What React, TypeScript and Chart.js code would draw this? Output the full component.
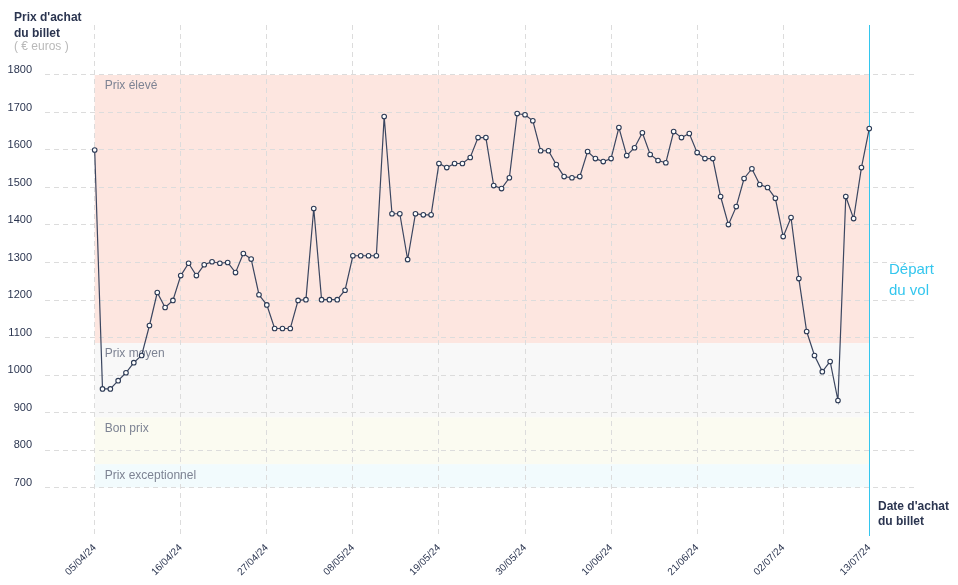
import React, { useEffect, useRef } from 'react';
import { Chart, registerables } from 'chart.js';

Chart.register(...registerables);

const tickLabels = ['05/04/24', '16/04/24', '27/04/24', '08/05/24', '19/05/24', '30/05/24', '10/06/24', '21/06/24', '02/07/24', '13/07/24'];
const tickStep = 11;

const prices = [
  1600, 963, 963, 985, 1006, 1033, 1052, 1132, 1220, 1180,
  1199, 1265, 1298, 1265, 1294, 1302, 1298, 1300, 1273, 1324,
  1309, 1214, 1187, 1124, 1124, 1124, 1199, 1201, 1444, 1201,
  1201, 1201, 1226, 1318, 1318, 1318, 1318, 1689, 1430, 1430,
  1308, 1430, 1427, 1427, 1564, 1553, 1564, 1564, 1580, 1633,
  1633, 1505, 1497, 1526, 1697, 1694, 1678, 1598, 1598, 1561,
  1529, 1526, 1529, 1596, 1577, 1569, 1577, 1660, 1585, 1606,
  1646, 1588, 1572, 1566, 1649, 1633, 1644, 1593, 1577, 1577,
  1476, 1401, 1449, 1524, 1550, 1508, 1500, 1471, 1369, 1420,
  1257, 1116, 1052, 1009, 1036, 932, 1476, 1417, 1553, 1657,
];

const yTicks = [700, 800, 900, 1000, 1100, 1200, 1300, 1400, 1500, 1600, 1700, 1800];

const bandNames = ['Prix élevé', 'Prix moyen', 'Bon prix', 'Prix exceptionnel'];
const bandFrom = [1085, 887, 762, 700];
const bandTo = [1800, 1085, 887, 762];
const bandColors = ['#fde6e0', '#f8f8f8', '#fbfbf1', '#f2fbfd'];

const yTitle = ["Prix d'achat", 'du billet'];
const yUnit = '( € euros )';
const xTitle = ["Date d'achat", 'du billet'];
const departLabel = ['Départ', 'du vol'];

const FONT = '"Liberation Sans", Arial, sans-serif';
const NAVY = '#2b3550';
const CYAN = '#33c6ee';

export default function App() {
  const ref = useRef<HTMLCanvasElement | null>(null);

  useEffect(() => {
    if (!ref.current) return;
    const lastIndex = prices.length - 1;

    const overlay = {
      id: 'overlay',
      beforeDraw(chart: any) {
        const { ctx, scales } = chart;
        const x = scales.x;
        const y = scales.y;
        const x0 = x.getPixelForValue(0);
        const x1 = x.getPixelForValue(lastIndex);
        ctx.save();
        bandNames.forEach((name, i) => {
          const top = y.getPixelForValue(bandTo[i]);
          const bot = y.getPixelForValue(bandFrom[i]);
          ctx.fillStyle = bandColors[i];
          ctx.fillRect(x0, top, x1 - x0, bot - top);
        });
        ctx.restore();
      },
      beforeDatasetsDraw(chart: any) {
        const { ctx, scales } = chart;
        const x = scales.x;
        const y = scales.y;
        const x0 = x.getPixelForValue(0);
        ctx.save();
        ctx.font = `12px ${FONT}`;
        ctx.fillStyle = '#7d8393';
        ctx.textBaseline = 'middle';
        ctx.textAlign = 'left';
        bandNames.forEach((name, i) => {
          const top = y.getPixelForValue(bandTo[i]);
          ctx.fillText(name, x0 + 10, top + 11);
        });
        // departure line
        const xl = x.getPixelForValue(lastIndex);
        ctx.strokeStyle = CYAN;
        ctx.lineWidth = 1;
        ctx.beginPath();
        ctx.moveTo(Math.floor(xl) + 0.5, chart.chartArea.top);
        ctx.lineTo(Math.floor(xl) + 0.5, chart.chartArea.bottom);
        ctx.stroke();
        ctx.restore();
      },
      afterDraw(chart: any) {
        const { ctx } = chart;
        ctx.save();
        ctx.textBaseline = 'middle';
        ctx.textAlign = 'left';
        ctx.fillStyle = NAVY;
        ctx.font = `bold 12px ${FONT}`;
        ctx.fillText(yTitle[0], 14, 18);
        ctx.fillText(yTitle[1], 14, 34);
        ctx.fillStyle = '#b9b9b9';
        ctx.font = `12px ${FONT}`;
        ctx.fillText(yUnit, 14, 47);
        ctx.fillStyle = NAVY;
        ctx.font = `bold 12px ${FONT}`;
        ctx.fillText(xTitle[0], 878, 507);
        ctx.fillText(xTitle[1], 878, 522);
        ctx.fillStyle = CYAN;
        ctx.font = `15px ${FONT}`;
        ctx.fillText(departLabel[0], 889, 270);
        ctx.fillText(departLabel[1], 889, 291);
        ctx.restore();
      },
    };

    const chart = new Chart(ref.current, {
      type: 'line',
      data: {
        datasets: [
          {
            data: prices.map((p, i) => ({ x: i, y: p })),
            borderColor: '#3b4660',
            borderWidth: 1.2,
            pointRadius: 2.3,
            pointBackgroundColor: '#ffffff',
            pointBorderColor: '#2c3a55',
            pointBorderWidth: 1.1,
            tension: 0,
          },
        ],
      },
      options: {
        responsive: false,
        animation: false,
        devicePixelRatio: 1,
        layout: { padding: { top: 25, right: 40, left: 0, bottom: 0 } },
        plugins: { legend: { display: false }, tooltip: { enabled: false } },
        scales: {
          x: {
            type: 'linear',
            min: -6.35,
            max: 105.23,
            afterBuildTicks: (s: any) => {
              s.ticks = tickLabels.map((_, k) => ({ value: k * tickStep }));
            },
            afterFit: (s: any) => {
              s.height = 49;
            },
            grid: { color: '#dcdcdc', lineWidth: 1, drawTicks: false },
            border: { display: false, dash: [5, 4] },
            ticks: {
              autoSkip: false,
              maxRotation: 45,
              minRotation: 45,
              padding: 6,
              color: NAVY,
              font: { family: FONT, size: 10 },
              callback: (v: any) => tickLabels[Math.round(Number(v) / tickStep)] ?? '',
            },
          },
          y: {
            type: 'linear',
            min: 570.7,
            max: 1933.3,
            afterBuildTicks: (s: any) => {
              s.ticks = yTicks.map((v) => ({ value: v }));
            },
            afterFit: (s: any) => {
              s.width = 45;
            },
            grid: { color: '#dcdcdc', lineWidth: 1, drawTicks: false },
            border: { display: false, dash: [5, 4] },
            ticks: {
              padding: 13,
              labelOffset: -5,
              color: NAVY,
              font: { family: FONT, size: 11 },
              callback: (v: any) => String(v),
            },
          },
        },
      },
      plugins: [overlay],
    });

    return () => chart.destroy();
  }, []);

  return (
    <div style={{ position: 'absolute', left: 0, top: 0, width: 958, height: 585 }}>
      <canvas ref={ref} width={958} height={585} style={{ width: 958, height: 585, display: 'block' }} />
    </div>
  );
}
